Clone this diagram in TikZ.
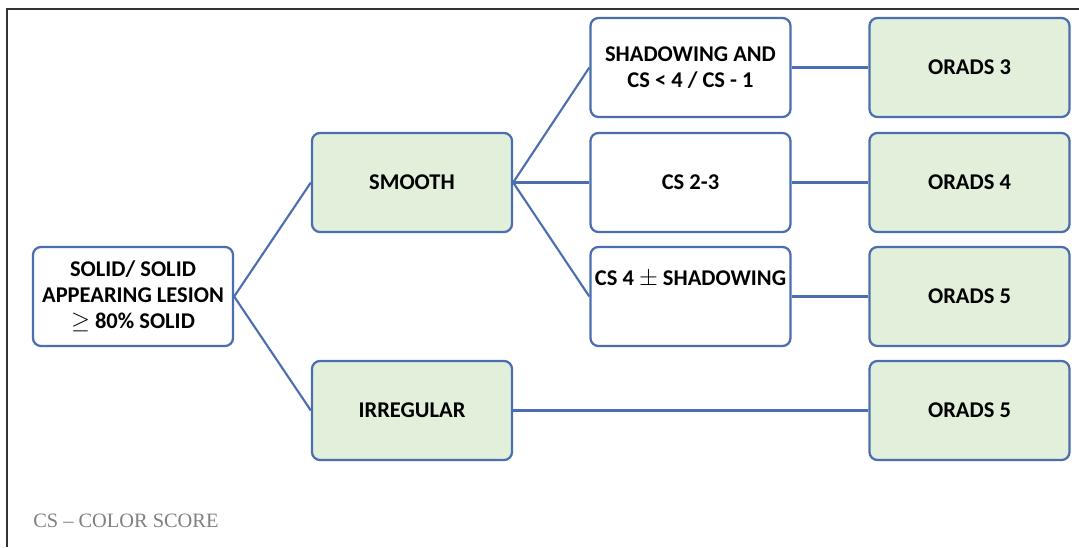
\documentclass[tikz,border=0pt]{standalone}
\usepackage{fontspec}
\setmainfont{Carlito}
\newfontfamily\notefont{Liberation Serif}
\definecolor{boxblue}{HTML}{4A6EAF}
\definecolor{boxgreen}{HTML}{E2EFDA}
\begin{document}
\begin{tikzpicture}[x=0.025cm,y=-0.025cm,
    box/.style={draw=boxblue, line width=1.6pt, rounded corners=0.2cm, fill=white,
      minimum width=5cm, minimum height=2.475cm, inner sep=0pt, align=center,
      font=\fontsize{16}{18.5}\selectfont\bfseries},
    greenbox/.style={box, fill=boxgreen},
    link/.style={draw=boxblue, line width=1.5pt}]
  \useasboundingbox (0,0) rectangle (1079,547);
  \draw [line width=0.8pt, black!80] (1079,9) -- (7,9) -- (7,547);
  \node [box] (lesion) at (133,296.5) {SOLID/ SOLID\\APPEARING LESION\\$\geq$ 80\% SOLID};
  \node [greenbox] (smooth) at (412,182.5) {SMOOTH};
  \node [greenbox] (irregular) at (412,410.5) {IRREGULAR};
  \node [box] (shadow) at (690.5,67.5) {SHADOWING AND\\CS < 4 / CS - 1};
  \node [box] (cstwo) at (690.5,182.5) {CS 2-3};
  \node [box, text height=0.95cm, text depth=1.525cm] (csfour) at (690.5,296.5) {CS 4 $\pm$ SHADOWING};
  \node [greenbox] (oradsthree) at (969.5,67.5) {ORADS 3};
  \node [greenbox] (oradsfour) at (969.5,182.5) {ORADS 4};
  \node [greenbox] (oradsfive) at (969.5,296.5) {ORADS 5};
  \node [greenbox] (oradsfivei) at (969.5,410.5) {ORADS 5};
  \draw [link] (lesion.east) -- (smooth.west);
  \draw [link] (lesion.east) -- (irregular.west);
  \draw [link] (smooth.east) -- (shadow.west);
  \draw [link] (smooth.east) -- (cstwo.west);
  \draw [link] (smooth.east) -- (csfour.west);
  \draw [link] (shadow.east) -- (oradsthree.west);
  \draw [link] (cstwo.east) -- (oradsfour.west);
  \draw [link] (csfour.east) -- (oradsfive.west);
  \draw [link] (irregular.east) -- (oradsfivei.west);
  \node [anchor=west, inner sep=0pt, text=black!50, font=\notefont\fontsize{14.5}{17}\selectfont] (note) at (33,521) {CS \textendash{} COLOR SCORE};
\end{tikzpicture}
\end{document}
